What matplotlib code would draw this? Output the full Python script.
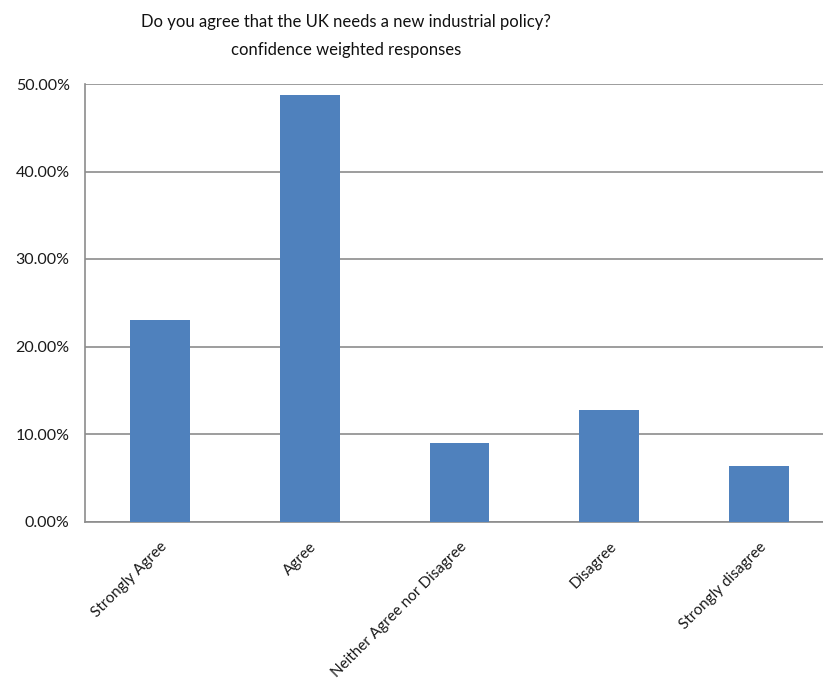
import matplotlib
matplotlib.use("Agg")
import matplotlib.pyplot as plt
from matplotlib.ticker import PercentFormatter

categories = ["Strongly Agree", "Agree", "Neither Agree nor Disagree",
              "Disagree", "Strongly disagree"]
values = [23.05, 48.75, 8.95, 12.75, 6.3]  # percent

plt.rcParams["font.family"] = ["Lato", "DejaVu Sans"]

fig = plt.figure(figsize=(8.23, 6.79), dpi=100)
ax = fig.add_axes([85 / 823, 157.5 / 679, 749 / 823, 437.5 / 679])

x = range(len(categories))
ax.bar(x, values, width=0.4, color="#4F81BD", zorder=3)

ax.set_xlim(-0.5, len(categories) - 0.5)
ax.set_ylim(0, 50)
ax.set_yticks([0, 10, 20, 30, 40, 50])
ax.yaxis.set_major_formatter(PercentFormatter(decimals=2))
ax.grid(axis="y", color="#8c8c8c", lw=1.2, zorder=0)

for s in ["top", "right"]:
    ax.spines[s].set_visible(False)
for s in ["left", "bottom"]:
    ax.spines[s].set_color("#8c8c8c")
    ax.spines[s].set_linewidth(1.2)

ax.tick_params(axis="y", length=0, pad=11, labelsize=11.5, colors="#1a1a1a")
ax.tick_params(axis="x", length=0, pad=13, labelsize=11, colors="#1a1a1a")
ax.set_xticks(list(x))
ax.set_xticklabels(categories, rotation=45, ha="right", rotation_mode="anchor")

fig.text(346 / 823, 1 - 22 / 679, "Do you agree that the UK needs a new industrial policy?",
         ha="center", va="center", fontsize=12, color="#111111")
fig.text(346 / 823, 1 - 50 / 679, "confidence weighted responses",
         ha="center", va="center", fontsize=12, color="#111111")

fig.savefig("out.png", dpi=100)
